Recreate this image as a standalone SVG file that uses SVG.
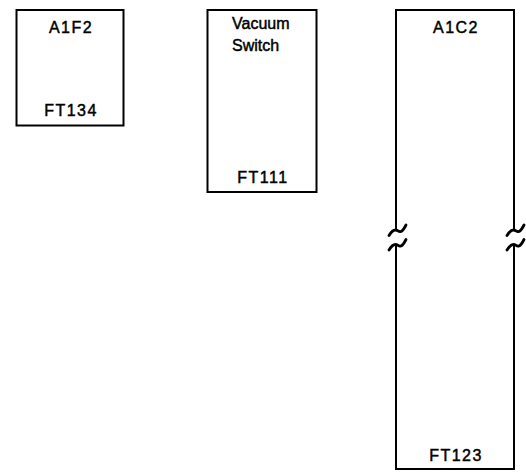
<svg xmlns="http://www.w3.org/2000/svg" width="526" height="472" viewBox="0 0 526 472">
<style>
.box{fill:none;stroke:#000;stroke-width:2}
.brk{fill:none;stroke:#000;stroke-width:2.8;stroke-linecap:round;stroke-linejoin:round}
.t{font-family:"Liberation Sans",Arial,sans-serif;font-size:16px;fill:#000;stroke:#000;stroke-width:0.45}
.c{text-anchor:middle;letter-spacing:1.5px}
</style>
<rect width="526" height="472" fill="#fff"/>
<g id="a1f2">
<rect class="box" x="16.5" y="10" width="107" height="115.5"/>
<text class="t c" x="71" y="33">A1F2</text>
<text class="t c" x="71" y="116">FT134</text>
</g>
<g id="vacuum-switch">
<rect class="box" x="207.5" y="10" width="109" height="182"/>
<text class="t" x="232" y="29">Vacuum</text>
<text class="t" x="232" y="51">Switch</text>
<text class="t c" x="263" y="183">FT111</text>
</g>
<g id="a1c2">
<path class="box" d="M396,230 L396,10 L514,10 L514,230"/>
<path class="box" d="M396,244 L396,469 L514,469 L514,244"/>
<text class="t c" x="456" y="33">A1C2</text>
<text class="t c" x="456" y="461">FT123</text>
</g>
<g id="connectors">
<path class="brk" d="M389,235.5 C390.5,233 393,230 395.5,230 C398,230 398.5,232.5 401,231.5 C403,230.5 404.5,228 406,225"/>
<path class="brk" d="M389,250 C390.5,247.5 393,244.5 395.5,244.5 C398,244.5 398.5,247 401,246 C403,245 404.5,242.5 406,239.5"/>
<path class="brk" d="M507,235.5 C508.5,233 511,230 513.5,230 C516,230 516.5,232.5 519,231.5 C521,230.5 522.5,228 524,225"/>
<path class="brk" d="M507,250 C508.5,247.5 511,244.5 513.5,244.5 C516,244.5 516.5,247 519,246 C521,245 522.5,242.5 524,239.5"/>
</g>
</svg>
